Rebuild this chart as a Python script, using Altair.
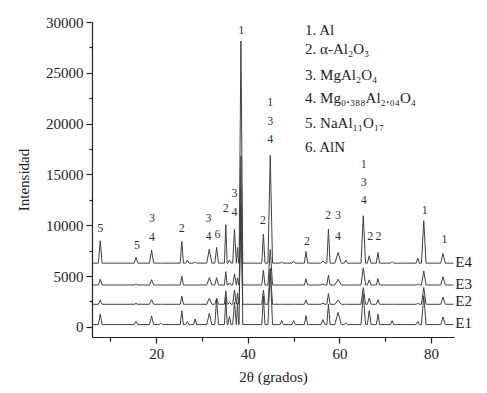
import altair as alt
import pandas as pd

# ---- data ----
two_theta_domain = [6, 85]
intensity_domain = [-1000, 30000]

traces = ["E1", "E2", "E3", "E4"]
baseline = [220, 2220, 4120, 6270]

peak_pos = [7.8, 15.6, 19.0, 21.0, 25.6, 26.8, 28.5, 31.6, 33.2, 35.2, 36.0, 37.1, 37.75,
            38.5, 43.4, 44.9, 47.4, 50.0, 52.7, 56.4, 57.6, 59.7, 61.4, 65.2, 66.5, 68.4,
            71.5, 77.1, 78.4, 82.6]
peak_halfwidth = [0.4, 0.4, 0.45, 0.4, 0.35, 0.35, 0.35, 0.55, 0.4, 0.3, 0.35, 0.4, 0.25,
                  0.4, 0.35, 0.5, 0.35, 0.35, 0.35, 0.45, 0.35, 0.7, 0.35, 0.5, 0.4, 0.35,
                  0.35, 0.35, 0.5, 0.5]
height_E1 = [1050, 320, 850, 150, 1380, 300, 560, 1110, 2530, 2600, 800, 2200, 2100,
             16600, 2800, 5500, 400, 400, 880, 490, 2030, 1210, 200, 3000, 1380, 1050,
             390, 300, 2850, 750]
height_E2 = [430, 80, 460, 0, 800, 0, 0, 600, 600, 1320, 200, 1400, 1100,
             9500, 1390, 3500, 0, 0, 430, 100, 1050, 400, 0, 1640, 600, 450,
             0, 100, 1650, 700]
height_E3 = [560, 100, 520, 0, 860, 0, 0, 720, 720, 1310, 200, 1100, 700,
             7800, 1450, 3500, 0, 0, 620, 100, 960, 560, 0, 1700, 500, 620,
             0, 100, 1380, 820]
height_E4 = [2200, 550, 1280, 0, 2130, 300, 100, 1380, 1540, 3780, 300, 3350, 1540,
             21850, 2860, 10600, 100, 200, 1150, 230, 3350, 1050, 300, 4660, 720, 1050,
             150, 500, 4170, 950]
heights = [height_E1, height_E2, height_E3, height_E4]

# peak annotation labels (2theta, intensity, text)
label_x = [7.8, 15.8, 19.1, 19.1, 25.6, 31.4, 31.4, 33.4, 35.2, 37.1, 37.1, 38.55,
           43.3, 44.9, 44.9, 44.9, 52.9, 57.5, 59.7, 59.7, 65.3, 65.3, 65.3,
           66.7, 68.5, 78.6, 82.9]
label_y = [9760, 8050, 10690, 8880, 9700, 10690, 8940, 9110, 11670, 13150, 11340, 29180,
           10520, 22090, 20220, 18480, 8450, 11010, 11010, 8940, 16040, 14300, 12490,
           8970, 8970, 11500, 8610]
label_text = ["5", "5", "3", "4", "2", "3", "4", "6", "2", "3", "4", "1",
              "2", "1", "3", "4", "2", "2", "3", "4", "1", "3", "4",
              "2", "2", "1", "1"]

legend_items = ["1. Al", "2. α-Al₂O₃", "3. MgAl₂O₄", "4. Mg₀.₃₈₈Al₂.₀₄O₄",
                "5. NaAl₁₁O₁₇", "6. AlN"]
legend_y = [29260, 27300, 24830, 22560, 20100, 17730]
legend_x = 52.5

trace_label_y = [335, 2560, 4210, 6340]
trace_label_x = 85.3

# ---- build tables ----
rows = []
for t, base, hs in zip(traces, baseline, heights):
    o = 0
    rows.append({"trace": t, "x": 6.2, "y": base, "o": o})
    for p, w, h in zip(peak_pos, peak_halfwidth, hs):
        for xx, yy in ((p - w, base), (p, base + h), (p + w, base)):
            o += 1
            rows.append({"trace": t, "x": xx, "y": yy, "o": o})
    rows.append({"trace": t, "x": 84.9, "y": base, "o": o + 1})
df_lines = pd.DataFrame(rows)

df_labels = pd.DataFrame({"x": label_x, "y": label_y, "t": label_text})
df_legend = pd.DataFrame({"x": [legend_x] * len(legend_items), "y": legend_y, "t": legend_items})
df_traces = pd.DataFrame({"x": [trace_label_x] * 4, "y": trace_label_y, "t": traces})

FONT = "Liberation Serif"
INK = "#222222"

X = alt.X("x:Q",
          scale=alt.Scale(domain=two_theta_domain, nice=False, zero=False),
          axis=alt.Axis(title="2θ (grados)", values=[10, 20, 30, 40, 50, 60, 70, 80],
                        labelExpr="datum.value % 20 === 0 ? datum.label : ''",
                        tickSize={"condition": {"test": "datum.value % 20 !== 0", "value": 4}, "value": 6},
                        labelPadding=3, titlePadding=8))
Y = alt.Y("y:Q",
          scale=alt.Scale(domain=intensity_domain, nice=False, zero=False),
          axis=alt.Axis(title="Intensidad", values=list(range(0, 30001, 2500)), format="d",
                        labelExpr="datum.value % 5000 === 0 ? datum.label : ''",
                        tickSize={"condition": {"test": "datum.value % 5000 !== 0", "value": 3}, "value": 6},
                        labelPadding=3, titlePadding=14))

lines = alt.Chart(df_lines).mark_line(strokeWidth=1, color="#404040").encode(
    x=X, y=Y, detail="trace:N", order="o:Q")

peak_labels = alt.Chart(df_labels).mark_text(
    font=FONT, fontSize=12, color="#333333", align="center", baseline="middle").encode(
    x=X, y=Y, text="t:N")

legend = alt.Chart(df_legend).mark_text(
    font=FONT, fontSize=15, color=INK, align="left", baseline="middle").encode(
    x=X, y=Y, text="t:N")

trace_labels = alt.Chart(df_traces).mark_text(
    font=FONT, fontSize=15, color=INK, align="left", baseline="middle").encode(
    x=X, y=Y, text="t:N")

chart = alt.layer(lines, peak_labels, legend, trace_labels).properties(
    width=362, height=315,
    autosize=alt.AutoSizeParams(type="none"),
    padding={"left": 84, "top": 14, "right": 25, "bottom": 48},
).configure_view(stroke=None).configure_axis(
    grid=False, labelFont=FONT, labelFontSize=15, labelColor=INK,
    titleFont=FONT, titleFontSize=15, titleFontWeight="normal", titleColor=INK,
    domainColor=INK, domainWidth=1.2, tickColor=INK, tickWidth=1.2,
)

chart.save("out.html", embed_options={"renderer": "svg", "actions": False})
